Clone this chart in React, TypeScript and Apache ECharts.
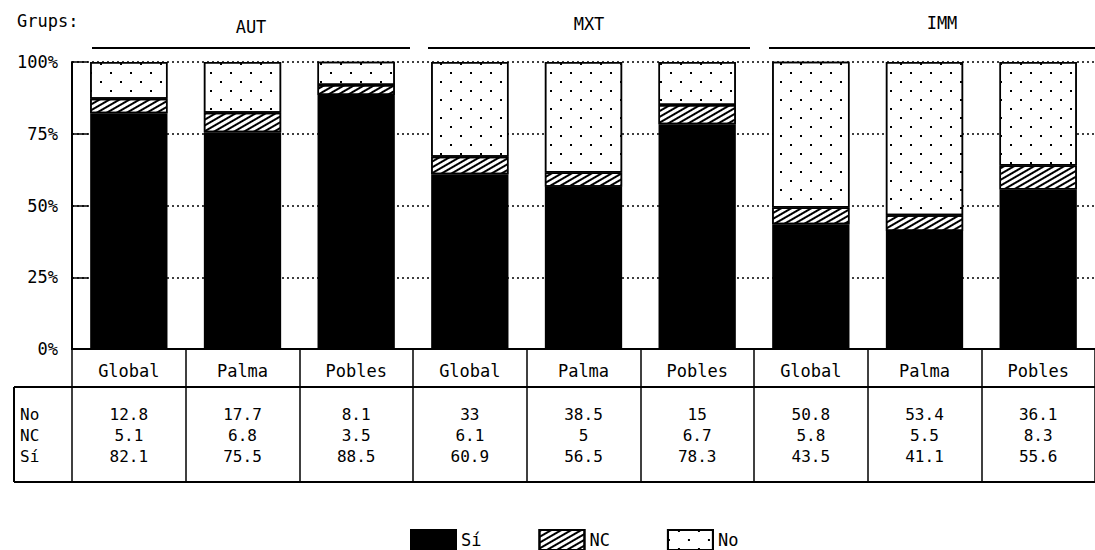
import React, { useEffect, useRef } from "react";
import * as echarts from "echarts";

const groups = ["AUT", "MXT", "IMM"];
const categories = ["Global", "Palma", "Pobles", "Global", "Palma", "Pobles", "Global", "Palma", "Pobles"];
const seriesNames = ["Sí", "NC", "No"];
const siValues = [82.1, 75.5, 88.5, 60.9, 56.5, 78.3, 43.5, 41.1, 55.6];
const ncValues = [5.1, 6.8, 3.5, 6.1, 5, 6.7, 5.8, 5.5, 8.3];
const noValues = [12.8, 17.7, 8.1, 33, 38.5, 15, 50.8, 53.4, 36.1];
const yTicks = [0, 25, 50, 75, 100];

const FONT = "DejaVu Sans Mono";

export default function App() {
  const ref = useRef<HTMLDivElement>(null);
  useEffect(() => {
    document.body.style.margin = "0";
    const chart = echarts.init(ref.current!, null, { renderer: "svg" });
    const catKeys = categories.map((c, i) => `${i}-${c}`);
    const border = { borderColor: "#000", borderWidth: 1.5 };
    const hatch = {
      symbol: "rect",
      symbolSize: 1,
      dashArrayX: [1, 0],
      dashArrayY: [2, 3],
      rotation: -Math.PI / 6,
      color: "#000",
    };
    const dots = {
      symbol: "rect",
      symbolSize: 1,
      dashArrayX: [[2, 18], [0, 10, 2, 8]],
      dashArrayY: [2, 7],
      color: "#000",
    };
    const groupPos = [
      { x1: 92, x2: 410, ty: 27 },
      { x1: 428, x2: 750, ty: 24 },
      { x1: 769, x2: 1115, ty: 23 },
    ];
    const graphic: any[] = [
      {
        type: "text",
        left: 17,
        top: 12,
        style: { text: "Grups:", font: `17px "${FONT}"`, fill: "#000" },
      },
    ];
    groups.forEach((g, i) => {
      const p = groupPos[i];
      graphic.push({
        type: "line",
        shape: { x1: p.x1, y1: 48, x2: p.x2, y2: 48 },
        style: { stroke: "#000", lineWidth: 2 },
      });
      const cx = i === 2 ? 942 : (p.x1 + p.x2) / 2;
      graphic.push({
        type: "text",
        x: cx,
        y: p.ty,
        style: {
          text: g,
          font: `17px "${FONT}"`,
          fill: "#000",
          align: "center",
          verticalAlign: "middle",
        },
      });
    });
    graphic.push(
      { type: "line", shape: { x1: 14, y1: 387, x2: 72, y2: 387 }, style: { stroke: "#000", lineWidth: 2 } },
      { type: "line", shape: { x1: 14, y1: 387, x2: 14, y2: 482 }, style: { stroke: "#000", lineWidth: 2 } },
      { type: "line", shape: { x1: 14, y1: 482, x2: 1095, y2: 482 }, style: { stroke: "#000", lineWidth: 2 } }
    );
    const rowNames = ["No", "NC", "Sí"];
    rowNames.forEach((r, i) => {
      graphic.push({
        type: "text",
        x: 20,
        y: 414 + i * 21,
        style: { text: r, font: `16px "${FONT}"`, fill: "#000", verticalAlign: "middle" },
      });
    });

    chart.setOption({
      animation: false,
      backgroundColor: "#fff",
      textStyle: { fontFamily: FONT, color: "#000" },
      grid: { left: 72, right: -16, top: 62, bottom: 201 },
      legend: {
        data: seriesNames,
        icon: "rect",
        left: 405,
        top: 524,
        itemWidth: 45,
        itemHeight: 20,
        itemGap: 57,
        textStyle: { fontFamily: FONT, fontSize: 17, color: "#000" },
        selectedMode: false,
      },
      xAxis: [
        {
          type: "category",
          data: catKeys,
          position: "bottom",
          axisLine: { lineStyle: { color: "#000", width: 2 } },
          axisTick: { show: true, length: 38, lineStyle: { color: "#000", width: 1.5 } },
          axisLabel: {
            interval: 0,
            margin: 13,
            fontFamily: FONT,
            fontSize: 17,
            color: "#000",
            formatter: (_v: string, idx: number) => categories[idx],
          },
        },
        {
          type: "category",
          data: catKeys,
          position: "bottom",
          offset: 38,
          axisLine: { lineStyle: { color: "#000", width: 2 } },
          axisTick: { show: true, length: 95, lineStyle: { color: "#000", width: 1.5 } },
          axisLabel: {
            interval: 0,
            margin: 17,
            fontFamily: FONT,
            fontSize: 16,
            lineHeight: 21,
            color: "#000",
            formatter: (_v: string, idx: number) =>
              `${noValues[idx]}\n${ncValues[idx]}\n${siValues[idx]}`,
          },
        },
      ],
      yAxis: {
        type: "value",
        min: yTicks[0],
        max: yTicks[yTicks.length - 1],
        interval: 25,
        axisLine: { show: true, lineStyle: { color: "#000", width: 2 } },
        axisTick: { show: true, inside: true, length: 16, lineStyle: { color: "#000", width: 1.5 } },
        axisLabel: { margin: 14, fontFamily: FONT, fontSize: 17, color: "#000", formatter: "{value}%" },
        splitLine: { show: true, lineStyle: { color: "#000", type: [2, 3], width: 1.5 } },
      },
      series: [
        {
          name: seriesNames[0],
          type: "bar",
          stack: "s",
          barWidth: "68%",
          data: siValues,
          itemStyle: { color: "#000", ...border },
        },
        {
          name: seriesNames[1],
          type: "bar",
          stack: "s",
          barWidth: "68%",
          data: ncValues,
          itemStyle: { color: "#fff", ...border, decal: hatch },
        },
        {
          name: seriesNames[2],
          type: "bar",
          stack: "s",
          barWidth: "68%",
          data: noValues,
          itemStyle: { color: "#fff", ...border, decal: dots },
        },
      ],
      graphic,
    });
    return () => chart.dispose();
  }, []);
  return (
    <div
      ref={ref}
      style={{ position: "absolute", left: 0, top: 0, width: 1095, height: 550, background: "#fff" }}
    />
  );
}
